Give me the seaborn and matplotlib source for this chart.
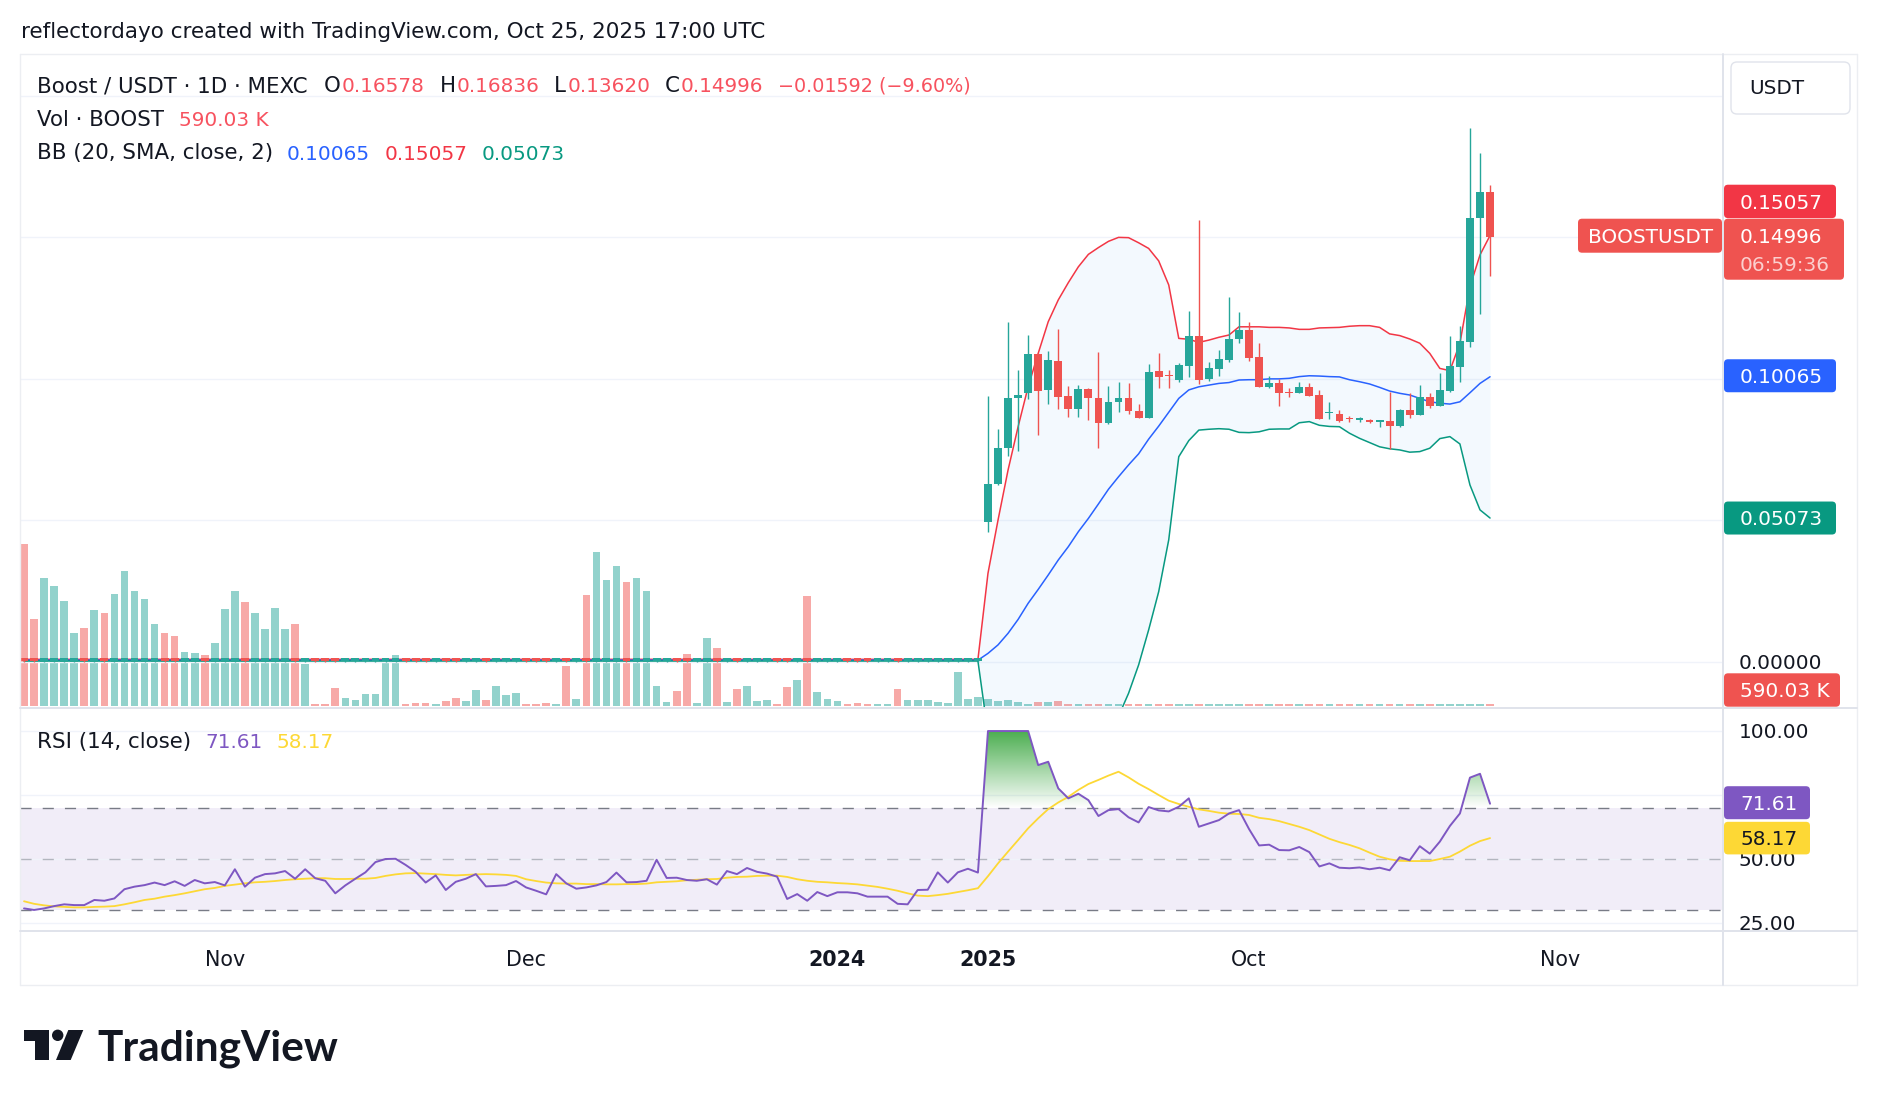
import numpy as np
import pandas as pd
import matplotlib
matplotlib.use("Agg")
import matplotlib.pyplot as plt
import seaborn as sns
from matplotlib.lines import Line2D
from matplotlib.patches import FancyBboxPatch, Rectangle, Circle, Polygon, PathPatch
from matplotlib.path import Path
from matplotlib.colors import LinearSegmentedColormap
from matplotlib.transforms import IdentityTransform, blended_transform_factory, Bbox, TransformedBbox

# ---------------- data ----------------
# old leg (Oct 12 2023 .. Jan 15 2024): price sits at ~0, candle colour per bar
old_dir = ("rrttttrtrt" "ttttrrttrt" "ttrttttrtr" "rrttttttrr" "rtrrttrttt"
           "rrrtrtrttt" "rttttrrttr" "trtttrrtrt" "ttrrrttrtt" "tttttt")
# volume, millions of BOOST
old_volume = [64.7, 34.7, 51.1, 47.9, 41.9, 29.1, 31.1, 38.3, 37.1, 44.7,
              53.9, 45.9, 42.7, 32.7, 29.1, 27.9, 21.5, 21.1, 20.3, 25.1,
              38.7, 45.9, 41.5, 37.1, 30.7, 39.1, 30.7, 32.7, 16.7, 0.7,
              0.7, 7.1, 3.1, 2.3, 4.7, 4.7, 17.1, 20.3, 0.7, 1.1,
              1.1, 0.7, 1.9, 3.1, 1.9, 6.3, 2.3, 7.9, 4.3, 5.1,
              0.7, 0.7, 1.1, 0.7, 15.9, 2.7, 44.3, 61.5, 50.3, 55.9,
              49.5, 51.1, 45.9, 7.9, 1.5, 5.9, 20.7, 1.1, 27.1, 23.1,
              1.5, 6.7, 7.9, 1.9, 2.3, 0.7, 7.5, 10.3, 43.9, 5.5,
              2.7, 1.9, 0.7, 1.1, 0.7, 0.7, 0.7, 6.7, 2.3, 2.3,
              2.3, 1.5, 1.1, 13.5, 2.7, 3.5]

# new leg (Sep 5 .. Oct 25 2025)
new_open = [0.0494, 0.0628, 0.0754, 0.0930, 0.0950, 0.1087, 0.0960, 0.1062, 0.0939, 0.0891,
            0.0963, 0.0930, 0.0842, 0.0916, 0.0930, 0.0886, 0.0859, 0.1027, 0.1012, 0.0995,
            0.1045, 0.1150, 0.0999, 0.1034, 0.1066, 0.1140, 0.1172, 0.1075, 0.0971, 0.0983,
            0.0952, 0.0948, 0.0970, 0.0942, 0.0877, 0.0875, 0.0860, 0.0854, 0.0854, 0.0848,
            0.0851, 0.0834, 0.0889, 0.0872, 0.0934, 0.0904, 0.0957, 0.1042, 0.1130, 0.1566, 0.16578]
new_high = [0.0939, 0.0821, 0.1199, 0.1030, 0.1154, 0.1090, 0.1097, 0.1175, 0.0974, 0.0977,
            0.0968, 0.1093, 0.0974, 0.0988, 0.0985, 0.0910, 0.1052, 0.1090, 0.1030, 0.1054,
            0.1239, 0.1560, 0.1058, 0.1101, 0.1288, 0.1235, 0.1199, 0.1125, 0.1010, 0.0999,
            0.0967, 0.0988, 0.0985, 0.0960, 0.0917, 0.0889, 0.0868, 0.0865, 0.0858, 0.0855,
            0.0954, 0.0891, 0.0948, 0.0977, 0.0948, 0.1019, 0.1150, 0.1186, 0.1886, 0.1796, 0.16836]
new_low = [0.0459, 0.0625, 0.0728, 0.0745, 0.0927, 0.0801, 0.0910, 0.0891, 0.0863, 0.0865,
           0.0854, 0.0754, 0.0838, 0.0882, 0.0874, 0.0859, 0.0859, 0.0968, 0.0968, 0.0988,
           0.1006, 0.0980, 0.0992, 0.1010, 0.1060, 0.1127, 0.1063, 0.0971, 0.0968, 0.0904,
           0.0936, 0.0948, 0.0940, 0.0856, 0.0856, 0.0847, 0.0846, 0.0848, 0.0844, 0.0830,
           0.0751, 0.0830, 0.0860, 0.0872, 0.0895, 0.0904, 0.0951, 0.0989, 0.1113, 0.1228, 0.13620]
new_close = [0.0628, 0.0754, 0.0930, 0.0942, 0.1087, 0.0957, 0.1066, 0.0936, 0.0891, 0.0963,
             0.0930, 0.0842, 0.0917, 0.0930, 0.0887, 0.0859, 0.1022, 0.1007, 0.1008, 0.1048,
             0.1150, 0.0995, 0.1037, 0.1069, 0.1140, 0.1172, 0.1074, 0.0971, 0.0986, 0.0948,
             0.0948, 0.0970, 0.0940, 0.0856, 0.0882, 0.0851, 0.0858, 0.0859, 0.0846, 0.0854,
             0.0834, 0.0889, 0.0872, 0.0934, 0.0904, 0.0960, 0.1045, 0.1133, 0.1566, 0.1658, 0.14996]
new_volume = [2.7, 1.9, 2.3, 1.3, 0.6, 1.3, 1.3, 1.9, 0.6, 0.6,
              0.6, 0.5, 0.6, 0.5, 0.6, 0.5, 0.6, 0.6, 0.5, 0.5,
              0.6, 0.6, 0.5, 0.6, 0.6, 0.5, 0.6, 0.5, 0.5, 0.6,
              0.5, 0.5, 0.6, 0.5, 0.5, 0.5, 0.6, 0.5, 0.5, 0.5,
              0.6, 0.5, 0.6, 0.5, 0.6, 0.5, 0.6, 0.6, 0.6, 0.6, 0.59]

bb_upper = [0.0312, 0.0500, 0.0677, 0.0830, 0.0971, 0.1089, 0.1201, 0.1278, 0.1339, 0.1395,
            0.1439, 0.1463, 0.1485, 0.1499, 0.1498, 0.1480, 0.1460, 0.1416, 0.1331, 0.1142,
            0.1139, 0.1128, 0.1136, 0.1146, 0.1154, 0.1183, 0.1183, 0.1183, 0.1181, 0.1181,
            0.1179, 0.1174, 0.1174, 0.1179, 0.1180, 0.1181, 0.1185, 0.1187, 0.1187, 0.1181,
            0.1158, 0.1152, 0.1140, 0.1125, 0.1089, 0.1036, 0.1028, 0.1125, 0.1325, 0.1437, 0.15057]
bb_basis = [0.0029, 0.0059, 0.0100, 0.0149, 0.0206, 0.0255, 0.0306, 0.0359, 0.0406, 0.0459,
            0.0506, 0.0557, 0.0609, 0.0653, 0.0695, 0.0734, 0.0786, 0.0832, 0.0881, 0.0930,
            0.0960, 0.0971, 0.0977, 0.0983, 0.0986, 0.0995, 0.0996, 0.0996, 0.0999, 0.0999,
            0.1001, 0.1007, 0.1010, 0.1009, 0.1007, 0.1006, 0.0996, 0.0989, 0.0981, 0.0969,
            0.0956, 0.0948, 0.0942, 0.0930, 0.0918, 0.0913, 0.0910, 0.0918, 0.0950, 0.0983, 0.10065]
bb_lower = [-0.0254, -0.0382, -0.0477, -0.0532, -0.0559, -0.0579, -0.0589, -0.0560, -0.0527, -0.0477,
            -0.0427, -0.0349, -0.0267, -0.0193, -0.0112, -0.0012, 0.0112, 0.0247, 0.0430, 0.0724,
            0.0781, 0.0818, 0.0821, 0.0823, 0.0821, 0.0810, 0.0809, 0.0812, 0.0821, 0.0822,
            0.0822, 0.0844, 0.0848, 0.0835, 0.0831, 0.0830, 0.0807, 0.0789, 0.0774, 0.0759,
            0.0752, 0.0748, 0.0740, 0.0742, 0.0754, 0.0788, 0.0795, 0.0769, 0.0624, 0.0536, 0.05073]

rsi = [30.7, 30.1, 30.7, 31.6, 32.3, 32.0, 32.0, 34.0, 33.7, 34.6,
       38.2, 39.2, 39.8, 40.8, 39.8, 41.3, 39.5, 41.8, 40.5, 41.0,
       39.7, 46.0, 39.2, 42.7, 44.1, 44.4, 45.3, 42.3, 46.0, 42.5,
       41.5, 36.6, 39.7, 42.3, 44.8, 48.8, 50.0, 50.1, 47.7, 45.0,
       40.8, 43.6, 37.9, 41.1, 42.3, 44.1, 39.3, 39.5, 39.8, 41.4,
       38.9, 37.6, 36.2, 44.1, 40.5, 38.4, 38.9, 39.7, 41.0, 44.7,
       40.9, 41.0, 41.5, 49.7, 42.6, 42.7, 41.8, 41.5, 42.1, 40.0,
       45.3, 44.1, 46.5, 45.0, 44.3, 43.1, 34.4, 36.3, 33.7, 37.1,
       35.5, 37.0, 37.0, 36.6, 35.3, 35.3, 35.3, 32.5, 32.3, 37.9,
       38.0, 44.8, 40.8, 44.8, 46.2, 44.7, 100.0, 100.0, 100.0, 100.0,
       100.0, 86.7, 88.0, 77.6, 73.7, 75.5, 73.0, 66.8, 69.1, 69.5,
       66.3, 64.3, 70.3, 69.0, 68.6, 70.4, 73.7, 62.6, 63.9, 65.2,
       67.8, 69.1, 61.7, 55.3, 55.6, 53.5, 53.4, 54.7, 52.7, 47.1,
       48.3, 46.6, 46.4, 46.7, 46.0, 46.6, 45.6, 50.7, 49.5, 55.0,
       52.1, 56.8, 62.9, 67.8, 81.8, 83.3, 71.61]
rsi_ma = [33.5, 32.5, 31.9, 31.5, 31.3, 31.1, 31.1, 31.3, 31.4, 31.6,
          32.3, 33.1, 34.0, 34.5, 35.3, 35.9, 36.6, 37.4, 38.2, 38.7,
          39.5, 40.0, 40.5, 40.9, 41.1, 41.4, 41.8, 42.1, 42.3, 42.5,
          42.5, 42.2, 42.2, 42.3, 42.3, 42.6, 43.4, 44.0, 44.4, 44.5,
          44.3, 44.1, 43.8, 43.6, 43.8, 44.0, 44.1, 44.0, 43.8, 43.4,
          42.1, 41.4, 40.8, 40.5, 40.4, 40.4, 40.2, 40.2, 40.1, 40.1,
          40.2, 40.2, 40.4, 40.9, 41.1, 41.3, 41.7, 41.9, 42.1, 42.2,
          42.7, 43.0, 43.1, 43.4, 43.5, 43.5, 43.0, 42.1, 41.5, 41.1,
          40.9, 40.6, 40.4, 40.1, 39.6, 39.1, 38.4, 37.6, 36.6, 35.7,
          35.5, 35.9, 36.4, 37.1, 37.8, 38.6, 43.3, 48.3, 52.9, 57.4,
          62.0, 65.9, 69.5, 72.1, 74.3, 77.0, 79.3, 80.9, 82.6, 84.1,
          81.9, 79.4, 77.3, 75.0, 72.8, 71.5, 70.4, 69.4, 68.8, 68.1,
          67.7, 67.6, 67.2, 66.1, 65.6, 64.8, 63.7, 62.6, 61.3, 59.6,
          57.9, 56.6, 55.5, 54.2, 52.5, 50.9, 49.9, 49.3, 49.2, 49.2,
          49.2, 50.0, 50.9, 52.9, 55.2, 57.0, 58.17]

tick_pos = [20, 50, 81, 96, 122, 153]
tick_labels = ["Nov", "Dec", "2024", "2025", "Oct", "Nov"]
tick_bold = [False, False, True, True, False, False]

# ---------------- assemble ----------------
n_old = len(old_dir)
up_old = [d == "t" for d in old_dir]
open_ = np.array([0.0001 if u else 0.0013 for u in up_old] + new_open)
close = np.array([0.0013 if u else 0.0001 for u in up_old] + new_close)
high = np.array([0.0014] * n_old + new_high)
low = np.array([0.0000] * n_old + new_low)
volume = np.array(old_volume + new_volume)
idx = np.arange(len(open_))

bb = pd.DataFrame({"idx": idx,
                   "upper": [0.0008] * n_old + bb_upper,
                   "basis": [0.0005] * n_old + bb_basis,
                   "lower": [0.0002] * n_old + bb_lower})
osc = pd.DataFrame({"idx": idx, "rsi": rsi, "ma": rsi_ma})

W, H = 1878, 1106
FS = 14.4        # axis / tag text and legend numbers
FS_LAB = 15.4    # legend words
DARK = "#131722"
UP, DOWN = "#26a69a", "#ef5350"
UP_VOL, DOWN_VOL = "#92d2cc", "#f7a9a7"
GRID = "#f0f3fa"
LINE = "#e0e3eb"

sns.set_theme(style="white")
plt.rcParams["font.family"] = ["DejaVu Sans"]

fig = plt.figure(figsize=(W / 100, H / 100), dpi=100)
fig.patch.set_facecolor("white")


def fx(x):
    return x / W


def fy(y):
    return 1 - y / H


main_rect = [fx(20), fy(708), (1722 - 20) / W, (708 - 54) / H]
axv = fig.add_axes(main_rect, zorder=0)
ax = fig.add_axes(main_rect, zorder=1, sharex=axv)
ax.patch.set_alpha(0)
axr = fig.add_axes([fx(20), fy(930), (1722 - 20) / W, (930 - 708) / H], sharex=axv)

XLIM = (-0.4, 169.1)

# volume
up = close >= open_
axv.bar(idx, volume, width=0.76, color=np.where(up, UP_VOL, DOWN_VOL), linewidth=0)
axv.set_ylim(-0.92, 260.7)

# bollinger fill + bands + candles
new_part = bb["idx"] >= n_old - 1
ax.fill_between(bb["idx"][new_part], bb["lower"][new_part], bb["upper"][new_part],
                color="#2196f3", alpha=0.05, linewidth=0, zorder=1)
sns.lineplot(data=bb, x="idx", y="upper", ax=ax, color="#f23645", linewidth=1.1, legend=False, zorder=3)
sns.lineplot(data=bb, x="idx", y="basis", ax=ax, color="#2962ff", linewidth=1.1, legend=False, zorder=3)
sns.lineplot(data=bb, x="idx", y="lower", ax=ax, color="#089981", linewidth=1.1, legend=False, zorder=3)
cols = np.where(up, UP, DOWN)
ax.vlines(idx, low, high, colors=cols, linewidth=1.0, zorder=4)
ax.bar(idx, np.maximum(np.abs(close - open_), 0.0004), bottom=np.minimum(open_, close),
       width=0.78, color=cols, linewidth=0, zorder=4)
ax.set_ylim(-0.0164, 0.2147)

# RSI pane
rsi_arr = np.array(rsi)
axr.axhspan(30, 70, color="#7e57c2", alpha=0.1, linewidth=0, zorder=0)
poly = axr.fill_between(idx, rsi_arr, 70, where=rsi_arr >= 70, interpolate=True,
                        facecolor="none", linewidth=0)
clip = PathPatch(Path.make_compound_path(*poly.get_paths()), transform=axr.transData,
                 facecolor="none", edgecolor="none")
axr.add_patch(clip)
green = LinearSegmentedColormap.from_list("g", [(0.298, 0.686, 0.314, 0.0), (0.298, 0.686, 0.314, 1.0)])
im = axr.imshow(np.linspace(0, 1, 256).reshape(-1, 1), extent=[0, len(idx), 70, 100],
                origin="lower", aspect="auto", cmap=green, zorder=1)
im.set_clip_path(clip)
for lvl, a in [(70, 1.0), (50, 0.5), (30, 1.0)]:
    axr.axhline(lvl, color="#787b86", alpha=a, linewidth=1.0, linestyle=(0, (8, 8)), zorder=2)
sns.lineplot(data=osc, x="idx", y="ma", ax=axr, color="#fdd835", linewidth=1.3, legend=False, zorder=3)
sns.lineplot(data=osc, x="idx", y="rsi", ax=axr, color="#7e57c2", linewidth=1.4, legend=False, zorder=4)
axr.set_ylim(22.27, 109.0)

for a, yt in [(ax, [0, 0.05, 0.10, 0.15, 0.20]), (axr, [25, 50, 75, 100]), (axv, [])]:
    a.set_xlim(*XLIM)
    a.set_yticks(yt)
    a.set_xticks(tick_pos if a is not axv else [])
    a.tick_params(length=0, labelleft=False, labelbottom=False, labelright=False)
    a.set_xlabel("")
    a.set_ylabel("")
    a.grid(a is not axv, color=GRID, linewidth=1.0)
    a.set_axisbelow(True)
    for s in a.spines.values():
        s.set_visible(False)
axv.patch.set_alpha(0)


# ---------------- frame & text ----------------
def hline(y, x0, x1, color=LINE, lw=1.0):
    fig.add_artist(Line2D([fx(x0), fx(x1)], [fy(y), fy(y)], color=color, linewidth=lw, zorder=2))


def vline(x, y0, y1, color=LINE, lw=1.0):
    fig.add_artist(Line2D([fx(x), fx(x)], [fy(y0), fy(y1)], color=color, linewidth=lw, zorder=2))


hline(54, 20, 1857, "#eceef2")
hline(985, 20, 1857, "#eceef2")
vline(20, 54, 985, "#eceef2")
vline(1857, 54, 985, "#eceef2")
vline(1722.5, 54, 985, LINE, 1.4)
hline(708, 20, 1857, LINE, 1.4)
hline(930.5, 20, 1857, LINE, 1.4)

R = fig.canvas.get_renderer()


def runs(x, y, parts):
    # each part: text, colour, font size, gap after (px)
    for s, col, size, gap in parts:
        t = fig.text(fx(x), fy(y), s, color=col, fontsize=size, va="baseline", ha="left")
        x += t.get_window_extent(R).width + gap


fig.text(fx(21), fy(38.5), "reflectordayo created with TradingView.com, Oct 25, 2025 17:00 UTC",
         color=DARK, fontsize=15.5, va="baseline")
VRED = "#f7525f"
L, V = FS_LAB, FS
runs(37, 92, [("Boost / USDT · 1D · MEXC", DARK, L, 16), ("O", DARK, L, 1), ("0.16578", VRED, V, 15),
              ("H", DARK, L, 1), ("0.16836", VRED, V, 15), ("L", DARK, L, 1), ("0.13620", VRED, V, 14),
              ("C", DARK, L, 1), ("0.14996", VRED, V, 15), ("−0.01592 (−9.60%)", VRED, 13.8, 0)])
runs(37, 126, [("Vol · BOOST", DARK, L, 15), ("590.03 K", VRED, V, 0)])
runs(37, 159.5, [("BB (20, SMA, close, 2)", DARK, L, 14), ("0.10065", "#2962ff", V, 14),
                 ("0.15057", "#f23645", V, 14), ("0.05073", "#089981", V, 0)])
runs(37, 748, [("RSI (14, close)", DARK, L, 14), ("71.61", "#7e57c2", V, 14), ("58.17", "#fdd835", V, 0)])

# time axis
tx = blended_transform_factory(ax.transData, fig.transFigure)
for p, lab, b in zip(tick_pos, tick_labels, tick_bold):
    fig.text(p, fy(966), lab, transform=tx, ha="center", va="baseline", fontsize=14.9,
             color=DARK, fontweight="bold" if b else "normal")

# axis labels
fig.text(fx(1739), fy(669), "0.00000", color=DARK, fontsize=FS, va="baseline", zorder=3)
clipbox = TransformedBbox(Bbox([[fx(1723), fy(930)], [1.0, fy(708)]]), fig.transFigure)
for val in [100, 50, 25]:
    yp = H - axr.transData.transform((0, val))[1]
    t = fig.text(fx(1739), fy(yp + 7.3), f"{val:.2f}", color=DARK, fontsize=FS, va="baseline", zorder=3)
    t.set_clip_box(clipbox)
    t.set_clip_on(True)


def box(x0, y0, x1, y1, color, ec="none", r=4):
    fig.add_artist(FancyBboxPatch((x0, H - y1), x1 - x0, y1 - y0,
                                  boxstyle=f"round,pad=0,rounding_size={r}",
                                  transform=IdentityTransform(), facecolor=color, edgecolor=ec,
                                  linewidth=1.0, zorder=5))


def label(x, yc, s, color="white"):
    fig.text(fx(x), fy(yc + 7.3), s, color=color, fontsize=FS, va="baseline", zorder=6)


def ypix(a, v):
    return H - a.transData.transform((0, v))[1]


# price tags
yc = ypix(ax, new_close[-1]) - 1.5
box(1724, yc - 17, 1844, yc + 44, "#ef5350")
label(1740, yc, "0.14996")
label(1740, yc + 28, "06:59:36", "#fbcfce")
box(1578, yc - 17, 1722, yc + 17, "#ef5350")
label(1588, yc, "BOOSTUSDT")
box(1724, yc - 51, 1836, yc - 17.6, "#f23645")
label(1740, yc - 34, "0.15057")
yb = ypix(ax, bb_basis[-1]) - 1
box(1724, yb - 16.5, 1836, yb + 16.5, "#2962ff")
label(1740, yb, "0.10065")
yl = ypix(ax, bb_lower[-1])
box(1724, yl - 16.5, 1836, yl + 16.5, "#089981")
label(1740, yl, "0.05073")
box(1724, 673.3, 1840, 706.7, "#ef5350")
label(1740, 690, "590.03 K")
yr = ypix(axr, rsi[-1]) - 1
box(1724, yr - 16.5, 1810, yr + 16.5, "#7e57c2")
label(1740, yr, "71.61")
ym = ypix(axr, rsi_ma[-1])
box(1724, ym - 16.3, 1810, ym + 16.3, "#fdd835")
label(1740, ym, "58.17", DARK)

# currency box
box(1731, 62, 1850, 114, "white", ec=LINE, r=6)
label(1749, 87, "USDT", DARK)


# TradingView logo
def P(x, y):
    return (x, H - y)


for art in [Rectangle(P(24, 1041), 25, 11), Rectangle(P(35, 1060), 14.3, 30),
            Circle(P(57.7, 1035.3), 5.7),
            Polygon([P(68.3, 1030), P(83.3, 1030), P(70.7, 1060), P(56, 1060)])]:
    art.set_transform(IdentityTransform())
    art.set_facecolor(DARK)
    art.set_edgecolor("none")
    fig.add_artist(art)
fig.text(fx(97), fy(1060), "TradingView", family="Lato", fontweight="bold", fontsize=30.5,
         color=DARK, va="baseline")

fig.savefig("out.png", dpi=100, facecolor="white")
